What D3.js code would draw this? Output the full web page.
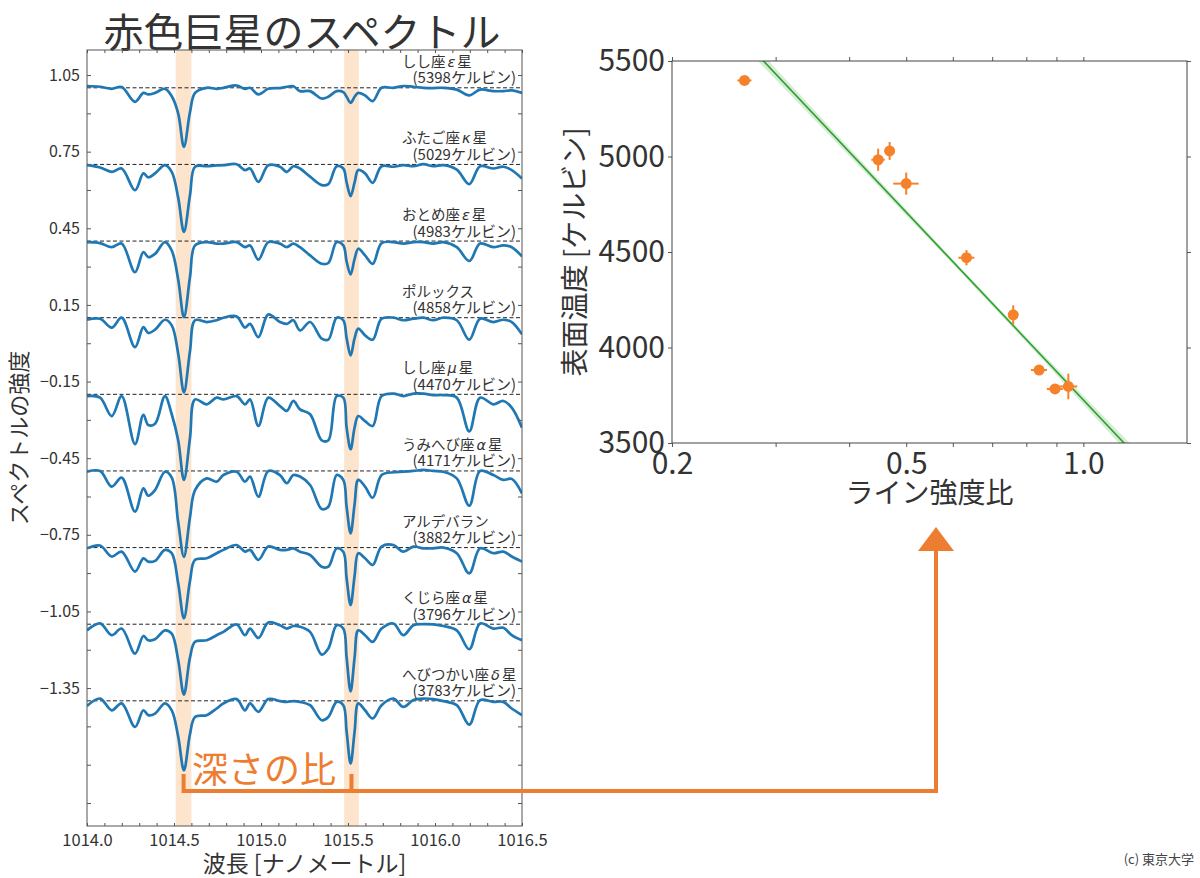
<!DOCTYPE html>
<html><head><meta charset="utf-8">
<script src="https://cdn.jsdelivr.net/npm/d3@7"></script>
<style>
body{margin:0;background:#fff}
svg{display:block}
text{font-family:'Noto Sans CJK JP','Noto Sans',sans-serif;fill:#333}
</style>
</head><body>
<svg id="c" width="1200" height="878"></svg>
<script>
// ---------------- data: left panel (spectra) ----------------
const wavelengths = [1014.000,1014.075,1014.142,1014.199,1014.276,1014.324,1014.352,1014.391,1014.448,1014.487,
  1014.524,1014.557,1014.592,1014.621,1014.688,1014.745,1014.784,1014.860,1014.908,1014.937,
  1014.985,1015.042,1015.109,1015.148,1015.186,1015.224,1015.282,1015.349,1015.387,1015.435,
  1015.473,1015.492,1015.515,1015.538,1015.559,1015.598,1015.642,1015.693,1015.761,1015.818,
  1015.876,1015.933,1015.990,1016.048,1016.125,1016.197,1016.259,1016.335,1016.393,1016.441,1016.500];

const fluxLeoEps = [1.007,1.004,0.996,1.003,0.945,0.980,0.974,0.980,0.996,0.967,
  0.900,0.769,0.905,0.980,1.000,0.996,1.000,1.009,0.996,1.000,
  0.974,0.996,0.999,1.004,1.006,0.987,0.987,0.958,0.965,0.987,
  0.983,0.965,0.941,0.965,0.980,0.970,0.948,1.000,1.000,1.007,
  1.004,1.000,0.999,1.000,0.993,0.970,0.993,0.987,0.987,0.990,0.980];
const fluxGemKap = [0.997,0.988,0.971,0.984,0.899,0.965,0.949,0.965,0.997,0.971,
  0.870,0.736,0.880,0.991,0.993,0.996,0.997,1.001,0.978,0.984,
  0.932,0.997,0.991,0.971,0.993,0.984,0.952,0.919,0.923,0.993,
  0.984,0.930,0.876,0.930,0.978,0.965,0.928,0.993,0.991,0.997,
  0.993,1.001,0.993,0.997,0.980,0.923,0.993,0.984,0.991,0.978,0.945];
const fluxVirEps = [0.996,0.992,0.976,0.990,0.878,0.957,0.937,0.950,0.996,0.963,
  0.850,0.702,0.860,0.983,0.996,0.990,0.990,0.996,0.976,0.983,
  0.927,0.996,0.990,0.976,0.990,0.976,0.944,0.911,0.914,0.996,
  0.983,0.920,0.869,0.930,0.970,0.944,0.911,0.992,0.996,0.990,
  0.996,0.996,0.990,0.996,0.976,0.922,0.990,0.976,0.983,0.976,0.940];
const fluxPollux = [0.992,0.996,0.961,1.000,0.885,0.963,0.940,0.953,0.992,0.970,
  0.860,0.708,0.870,0.990,0.983,0.990,1.000,1.005,0.961,0.976,
  0.924,1.013,0.983,0.976,0.990,0.950,0.983,0.918,0.914,1.000,
  0.990,0.920,0.852,0.920,0.957,0.931,0.914,0.996,1.000,0.990,
  0.996,1.000,0.990,1.000,0.990,0.914,0.996,0.983,0.992,0.983,0.935];
const fluxLeoMu = [0.993,0.987,0.915,0.993,0.805,0.920,0.880,0.885,0.993,0.922,
  0.820,0.665,0.830,0.980,0.961,0.987,0.980,0.993,0.961,0.980,
  0.876,0.987,0.954,0.935,0.974,0.941,0.922,0.820,0.820,0.993,
  0.987,0.870,0.785,0.870,0.915,0.895,0.876,0.993,1.003,0.993,
  1.003,1.003,0.997,0.997,0.987,0.855,0.987,0.961,0.974,0.948,0.869];
const fluxHyaAlp = [0.997,1.000,0.939,0.974,0.841,0.932,0.903,0.925,0.997,0.974,
  0.800,0.664,0.820,0.925,0.971,0.958,0.984,0.997,0.958,0.978,
  0.899,1.000,0.984,0.952,0.984,0.978,0.945,0.851,0.860,0.984,
  0.965,0.860,0.756,0.870,0.965,0.939,0.895,0.984,0.995,0.997,
  1.000,1.004,1.000,0.997,0.971,0.864,1.000,0.984,0.965,0.969,0.912];
const fluxAldebaran = [0.997,1.008,0.965,0.984,0.906,0.958,0.945,0.948,0.991,0.978,
  0.860,0.723,0.870,0.952,0.958,0.978,0.991,1.010,0.984,0.991,
  0.952,1.004,0.991,0.991,0.997,0.984,0.971,0.925,0.925,0.997,
  0.984,0.880,0.775,0.890,0.978,0.958,0.932,1.004,1.010,0.984,
  1.004,0.997,0.997,1.000,0.978,0.899,0.997,0.978,0.984,0.965,0.945];
const fluxCetAlp = [0.976,1.003,0.957,0.983,0.885,0.954,0.937,0.941,0.976,0.963,
  0.860,0.724,0.870,0.931,0.937,0.957,0.970,0.999,0.957,0.983,
  0.946,1.007,0.996,0.983,0.993,0.990,0.970,0.881,0.905,0.996,
  0.983,0.870,0.737,0.870,0.976,0.957,0.931,0.983,1.003,0.957,
  0.996,1.000,0.999,0.993,0.976,0.902,1.003,0.983,0.986,0.957,0.937];
const fluxOphDel = [0.980,1.009,0.963,0.990,0.898,0.963,0.944,0.950,0.990,0.963,
  0.860,0.728,0.870,0.937,0.944,0.970,0.990,1.007,0.963,0.990,
  0.957,1.007,0.999,0.996,0.999,0.996,0.983,0.924,0.937,0.996,
  0.983,0.880,0.754,0.880,0.990,0.963,0.931,0.983,1.009,0.976,
  1.003,1.009,1.007,0.999,0.983,0.907,1.003,0.996,0.996,0.970,0.944];

const starNamePre  = ["しし座","ふたご座","おとめ座","ポルックス","しし座","うみへび座","アルデバラン","くじら座","へびつかい座"];
const starGreek    = ["ε","κ","ε","","μ","α","","α","δ"];
const starNamePost = ["星","星","星","","星","星","","星","星"];
const starTemps    = [5398,5029,4983,4858,4470,4171,3882,3796,3783];
const spectrumBaselines = [1.0,0.7,0.4,0.1,-0.2,-0.5,-0.8,-1.1,-1.4];
const lineBands = [[1014.51,1014.60],[1015.478,1015.562]];

const leftXTicks = [1014.0,1014.5,1015.0,1015.5,1016.0,1016.5];
const leftXTickLabels = ["1014.0","1014.5","1015.0","1015.5","1016.0","1016.5"];
const leftYTicks = [1.05,0.9,0.75,0.6,0.45,0.3,0.15,0,-0.15,-0.3,-0.45,-0.6,-0.75,-0.9,-1.05,-1.2,-1.35,-1.5,-1.65,-1.8];
const leftYTickLabels = ["1.05","","0.75","","0.45","","0.15","","−0.15","","−0.45","","−0.75","","−1.05","","−1.35","","",""];

// ---------------- data: right panel (temperature vs ratio) ----------------
const lineRatio    = [0.2656,0.4686,0.448,0.500,0.633,0.760,0.841,0.943,0.895];
const lineRatioErr = [0.0073,0.0092,0.0118,0.0249,0.0199,0.012,0.0264,0.0333,0.0281];
const tempErr      = [15,47,58,58,40,50,20,67,15];
const fitR = [0.27,1.25];
const fitT = [5582,3409];
const bandR    = [0.27,0.4,0.6,0.8,1.0,1.25];
const bandTlow = [5550,5004,4437,4027,3703,3375];
const bandThigh= [5614,5044,4461,4055,3747,3443];
const rightXTicks = [0.2,0.3,0.4,0.5,0.6,0.7,0.8,0.9,1.0];
const rightXTickLabels = ["0.2","","","0.5","","","","","1.0"];
const rightYTicks = [3500,4000,4500,5000,5500];
const rightYTickLabels = ["3500","4000","4500","5000","5500"];

// ---------------- drawing ----------------
const svg = d3.select("#c");
const FONT = "'Noto Sans CJK JP','Noto Sans',sans-serif";
const ORANGE = "#ed7d31";
const spectra = [fluxLeoEps,fluxGemKap,fluxVirEps,fluxPollux,fluxLeoMu,fluxHyaAlp,fluxAldebaran,fluxCetAlp,fluxOphDel];

const L = {x0:87,x1:522,y0:50,y1:826};
const R = {x0:672,x1:1187,y0:61,y1:443};

const xL = d3.scaleLinear().domain([1014,1016.5]).range([L.x0,L.x1]);
const yL = d3.scaleLinear().domain([-1.89,1.148]).range([L.y1,L.y0]);
const xR = d3.scaleLog().domain([0.2,1.5]).range([R.x0,R.x1]);
const yR = d3.scaleLinear().domain([3500,5500]).range([R.y1,R.y0]);

const defs = svg.append("defs");
defs.append("clipPath").attr("id","clipL").append("rect")
  .attr("x",L.x0).attr("y",L.y0).attr("width",L.x1-L.x0).attr("height",L.y1-L.y0);
defs.append("clipPath").attr("id","clipR").append("rect")
  .attr("x",R.x0).attr("y",R.y0).attr("width",R.x1-R.x0).attr("height",R.y1-R.y0);

// title
svg.append("text").attr("x",302).attr("y",47).attr("text-anchor","middle")
  .attr("font-size",40).style("fill","#333").text("赤色巨星のスペクトル");

// ---- left panel ----
const gL = svg.append("g");
gL.append("g").selectAll("rect").data(lineBands).join("rect")
  .attr("x",d=>xL(d[0])).attr("width",d=>xL(d[1])-xL(d[0]))
  .attr("y",L.y0).attr("height",L.y1-L.y0).attr("fill","#fde4cd");

gL.append("g").selectAll("line").data(spectrumBaselines).join("line")
  .attr("x1",L.x0).attr("x2",L.x1).attr("y1",d=>yL(d)).attr("y2",d=>yL(d))
  .attr("stroke","#222").attr("stroke-width",1).attr("stroke-dasharray","4,2.5");

const specLine = (i) => d3.line()
  .x((d,k)=>xL(wavelengths[k]))
  .y(d=>yL(d + spectrumBaselines[i] - 1))
  .curve(d3.curveCatmullRom.alpha(0.5));
gL.append("g").attr("clip-path","url(#clipL)").selectAll("path").data(spectra).join("path")
  .attr("d",(d,i)=>specLine(i)(d))
  .attr("fill","none").attr("stroke","#1f77b4").attr("stroke-width",2.7)
  .attr("stroke-linejoin","round");

// star labels
const lab = gL.append("g").attr("font-size",14.5);
spectrumBaselines.forEach((b,i)=>{
  const yb = yL(b);
  const t = lab.append("text").attr("x",402).attr("y",yb-21);
  t.append("tspan").text(starNamePre[i]);
  if (starGreek[i]) {
    t.append("tspan").attr("font-style","italic").style("font-family","'DejaVu Sans',sans-serif")
      .attr("dx",2).text(starGreek[i]);
    t.append("tspan").attr("dx",2).text(starNamePost[i]);
  }
  lab.append("text").attr("x",516).attr("y",yb-4.5).attr("text-anchor","end")
    .attr("font-size",15).text("(" + starTemps[i] + "ケルビン)");
});

// left axes
function styleAxis(g, fs){
  g.attr("font-family",FONT).attr("font-size",fs);
  g.select(".domain").remove();
  g.selectAll(".tick line").attr("stroke","#555");
  g.selectAll(".tick text").style("fill","#333");
}
const xMinorL = d3.range(0,26).map(i=>+(1014+i*0.1).toFixed(1));
gL.append("g").attr("transform",`translate(0,${L.y1})`)
  .call(d3.axisBottom(xL).tickValues(leftXTicks).tickSize(-3).tickPadding(8)
    .tickFormat((d,i)=>leftXTickLabels[i]))
  .call(g=>styleAxis(g,16.5));
gL.append("g").attr("transform",`translate(0,${L.y1})`)
  .call(d3.axisBottom(xL).tickValues(xMinorL).tickSize(-3).tickFormat(""))
  .call(g=>styleAxis(g,16));
gL.append("g").attr("transform",`translate(0,${L.y0})`)
  .call(d3.axisTop(xL).tickValues(xMinorL).tickSize(-3).tickFormat(""))
  .call(g=>styleAxis(g,16));
gL.append("g").attr("transform",`translate(${L.x0},0)`)
  .call(d3.axisLeft(yL).tickValues(leftYTicks).tickSize(-4).tickPadding(7)
    .tickFormat((d,i)=>leftYTickLabels[i]))
  .call(g=>styleAxis(g,16));
gL.append("g").attr("transform",`translate(${L.x1},0)`)
  .call(d3.axisRight(yL).tickValues(leftYTicks).tickSize(-4).tickFormat(""))
  .call(g=>styleAxis(g,16));
gL.append("rect").attr("x",L.x0).attr("y",L.y0).attr("width",L.x1-L.x0).attr("height",L.y1-L.y0)
  .attr("fill","none").attr("stroke","#555").attr("stroke-width",1);

svg.append("text").attr("transform",`translate(27,${(L.y0+L.y1)/2}) rotate(-90)`)
  .attr("text-anchor","middle").attr("font-size",22).text("スペクトルの強度");
svg.append("text").attr("x",(L.x0+L.x1)/2).attr("y",872).attr("text-anchor","middle")
  .attr("font-size",23).text("波長 [ナノメートル]");

// ---- right panel ----
const gR = svg.append("g");
const bandArea = d3.area().x((d,i)=>xR(bandR[i])).y0((d,i)=>yR(bandTlow[i])).y1((d,i)=>yR(bandThigh[i]));
const cR = gR.append("g").attr("clip-path","url(#clipR)");
cR.append("path").attr("d",bandArea(bandR)).attr("fill","#2ca02c").attr("fill-opacity",0.2);
cR.append("path").attr("d",d3.line().x((d,i)=>xR(fitR[i])).y((d,i)=>yR(fitT[i]))(fitR))
  .attr("stroke","#2ca02c").attr("stroke-width",1.6).attr("fill","none");

const pts = gR.append("g");
pts.selectAll("line.ex").data(lineRatio).join("line").attr("class","ex")
  .attr("x1",(d,i)=>xR(d-lineRatioErr[i])).attr("x2",(d,i)=>xR(d+lineRatioErr[i]))
  .attr("y1",(d,i)=>yR(starTemps[i])).attr("y2",(d,i)=>yR(starTemps[i]))
  .attr("stroke","#f5822a").attr("stroke-width",2);
pts.selectAll("line.ey").data(lineRatio).join("line").attr("class","ey")
  .attr("x1",d=>xR(d)).attr("x2",d=>xR(d))
  .attr("y1",(d,i)=>yR(starTemps[i]-tempErr[i])).attr("y2",(d,i)=>yR(starTemps[i]+tempErr[i]))
  .attr("stroke","#f5822a").attr("stroke-width",2);
pts.selectAll("circle").data(lineRatio).join("circle")
  .attr("cx",d=>xR(d)).attr("cy",(d,i)=>yR(starTemps[i])).attr("r",5.5)
  .attr("fill","#f5822a");

gR.append("g").attr("transform",`translate(0,${R.y1})`)
  .call(d3.axisBottom(xR).tickValues(rightXTicks).tickSize(4).tickPadding(5.5)
    .tickFormat((d,i)=>rightXTickLabels[i]))
  .call(g=>styleAxis(g,30));
gR.append("g").attr("transform",`translate(0,${R.y0})`)
  .call(d3.axisTop(xR).tickValues(rightXTicks).tickSize(4).tickFormat(""))
  .call(g=>styleAxis(g,30));
gR.append("g").attr("transform",`translate(${R.x0},0)`)
  .call(d3.axisLeft(yR).tickValues(rightYTicks).tickSize(4).tickPadding(3)
    .tickFormat((d,i)=>rightYTickLabels[i]))
  .call(g=>styleAxis(g,30));
gR.append("g").attr("transform",`translate(${R.x1},0)`)
  .call(d3.axisRight(yR).tickValues(rightYTicks).tickSize(4).tickFormat(""))
  .call(g=>styleAxis(g,30));
gR.append("rect").attr("x",R.x0).attr("y",R.y0).attr("width",R.x1-R.x0).attr("height",R.y1-R.y0)
  .attr("fill","none").attr("stroke","#444").attr("stroke-width",1);

svg.append("text").attr("transform",`translate(585,${(R.y0+R.y1)/2}) rotate(-90)`)
  .attr("text-anchor","middle").attr("font-size",28).text("表面温度 [ケルビン]");
svg.append("text").attr("x",(R.x0+R.x1)/2).attr("y",503).attr("text-anchor","middle")
  .attr("font-size",28).text("ライン強度比");

// ---- annotation ----
const bx0 = xL((lineBands[0][0]+lineBands[0][1])/2);
const bx1 = xL((lineBands[1][0]+lineBands[1][1])/2);
const ann = svg.append("g");
ann.append("text").attr("x",192).attr("y",783).attr("font-size",36).style("fill",ORANGE).text("深さの比");
ann.append("path").attr("d",`M${bx0},774 V791 H936 V548 M${bx1},774 V791`)
  .attr("fill","none").attr("stroke",ORANGE).attr("stroke-width",4).attr("stroke-linejoin","miter");
ann.append("path").attr("d","M936,527 L918,551 L954,551 Z").attr("fill",ORANGE);

svg.append("text").attr("x",1194).attr("y",864).attr("text-anchor","end")
  .attr("font-size",13).style("fill","#444").text("(c) 東京大学");
</script>
</body></html>
